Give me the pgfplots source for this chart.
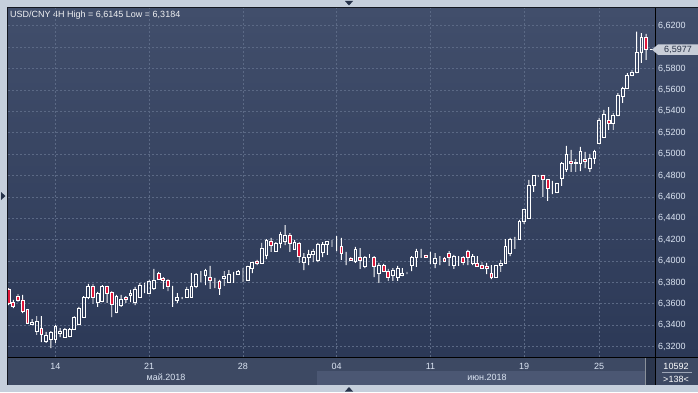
\documentclass[border=0pt]{standalone}
\usepackage{pgfplots}
\pgfplotsset{compat=1.18}
\usepackage{pgfplotstable}
\usepackage{fontspec}
\setmainfont{Liberation Sans}

\definecolor{framecol}{HTML}{C5CFDC}
\definecolor{bgtop}{HTML}{414E6B}
\definecolor{bgbot}{HTML}{2C3957}
\definecolor{panel}{HTML}{3D4963}
\definecolor{panellight}{HTML}{4B5773}
\definecolor{scrolldark}{HTML}{2B364D}
\definecolor{gridcol}{HTML}{5B6985}
\definecolor{labeltext}{HTML}{DCE5F3}
\definecolor{candlered}{HTML}{E0173A}
\definecolor{tagfill}{HTML}{C9CED8}
\definecolor{tagtext}{HTML}{263045}
\definecolor{tri}{HTML}{26324A}

\pgfplotstableread{
i o h l c
0 6.3739 6.3748 6.3589 6.3608
1 6.3617 6.3636 6.3561 6.3580
2 6.3673 6.3692 6.3617 6.3636
3 6.3636 6.3683 6.3514 6.3533
4 6.3543 6.3543 6.3412 6.3421
5 6.3412 6.3458 6.3402 6.3430
6 6.3346 6.3486 6.3309 6.3440
7 6.3374 6.3486 6.3243 6.3318
8 6.3253 6.3337 6.3234 6.3309
9 6.3271 6.3346 6.3187 6.3337
10 6.3271 6.3402 6.3234 6.3393
11 6.3327 6.3374 6.3290 6.3346
12 6.3290 6.3374 6.3281 6.3365
13 6.3299 6.3374 6.3290 6.3365
14 6.3365 6.3486 6.3356 6.3477
15 6.3412 6.3571 6.3402 6.3561
16 6.3477 6.3673 6.3468 6.3664
17 6.3664 6.3786 6.3645 6.3758
18 6.3758 6.3786 6.3599 6.3664
19 6.3617 6.3711 6.3571 6.3701
20 6.3627 6.3776 6.3617 6.3758
21 6.3758 6.3767 6.3608 6.3701
22 6.3711 6.3720 6.3477 6.3599
23 6.3524 6.3683 6.3514 6.3673
24 6.3589 6.3683 6.3571 6.3645
25 6.3664 6.3673 6.3608 6.3645
26 6.3683 6.3730 6.3617 6.3701
27 6.3617 6.3758 6.3589 6.3739
28 6.3664 6.3795 6.3655 6.3776
29 6.3781 6.3795 6.3701 6.3781
30 6.3701 6.3823 6.3692 6.3814
31 6.3748 6.3926 6.3730 6.3823
32 6.3888 6.3898 6.3823 6.3832
33 6.3842 6.3851 6.3739 6.3823
34 6.3823 6.3832 6.3720 6.3758
35 6.3692 6.3767 6.3571 6.3692
36 6.3636 6.3701 6.3608 6.3664
37 6.3655 6.3664 6.3645 6.3655
38 6.3664 6.3758 6.3655 6.3739
39 6.3664 6.3888 6.3655 6.3767
40 6.3758 6.3888 6.3748 6.3879
41 6.3870 6.3907 6.3804 6.3870
42 6.3870 6.3926 6.3776 6.3916
43 6.3851 6.3954 6.3739 6.3823
44 6.3814 6.3842 6.3748 6.3814
45 6.3814 6.3823 6.3683 6.3748
46 6.3842 6.3907 6.3767 6.3860
47 6.3804 6.3916 6.3795 6.3879
48 6.3888 6.3898 6.3795 6.3888
49 6.3879 6.3916 6.3870 6.3907
50 6.3898 6.3935 6.3804 6.3898
51 6.3823 6.3954 6.3814 6.3945
52 6.3935 6.3991 6.3888 6.3991
53 6.4001 6.4010 6.3963 6.3982
54 6.3982 6.4169 6.3973 6.4122
55 6.4057 6.4206 6.4019 6.4197
56 6.4188 6.4216 6.4085 6.4150
57 6.4094 6.4178 6.4085 6.4169
58 6.4169 6.4272 6.4122 6.4253
59 6.4188 6.4337 6.4150 6.4244
60 6.4244 6.4262 6.4085 6.4169
61 6.4113 6.4197 6.4104 6.4178
62 6.4169 6.4178 6.3982 6.4047
63 6.3991 6.4075 6.3916 6.4038
64 6.4038 6.4104 6.3963 6.4066
65 6.4066 6.4113 6.3991 6.4094
66 6.4010 6.4169 6.3991 6.4160
67 6.4085 6.4178 6.4038 6.4160
68 6.4160 6.4188 6.4057 6.4188
69 6.4178 6.4197 6.4132 6.4178
70 6.4188 6.4234 6.4094 6.4188
71 6.4132 6.4216 6.4010 6.4075
72 6.4019 6.4085 6.3963 6.4019
73 6.4029 6.4038 6.4001 6.4010
74 6.4001 6.4132 6.3982 6.4104
75 6.4038 6.4122 6.3926 6.4010
76 6.3945 6.4047 6.3935 6.4038
77 6.4038 6.4066 6.4029 6.4038
78 6.4038 6.4047 6.3851 6.3954
79 6.3888 6.3982 6.3795 6.3963
80 6.3963 6.3973 6.3898 6.3907
81 6.3907 6.3926 6.3814 6.3851
82 6.3870 6.3935 6.3814 6.3916
83 6.3851 6.3954 6.3814 6.3935
84 6.3870 6.3935 6.3860 6.3888
85 6.3888 6.3898 6.3879 6.3888
86 6.3963 6.4047 6.3907 6.4038
87 6.4038 6.4113 6.3945 6.4094
88 6.4047 6.4113 6.4029 6.4047
89 6.4057 6.4057 6.4029 6.4038
90 6.4057 6.4085 6.3973 6.4057
91 6.3982 6.4075 6.3935 6.4029
92 6.4038 6.4047 6.3963 6.4038
93 6.4029 6.4038 6.3991 6.4001
94 6.4075 6.4094 6.3954 6.4038
95 6.3963 6.4057 6.3926 6.4047
96 6.4038 6.4047 6.3954 6.4038
97 6.4038 6.4047 6.3963 6.3991
98 6.4094 6.4104 6.3963 6.4038
99 6.3982 6.4066 6.3963 6.4047
100 6.3982 6.4047 6.3945 6.3945
101 6.3963 6.3991 6.3926 6.3935
102 6.3954 6.3982 6.3879 6.3935
103 6.3888 6.3963 6.3832 6.3851
104 6.3851 6.3963 6.3842 6.3963
105 6.3963 6.4010 6.3898 6.3982
106 6.3982 6.4206 6.3973 6.4141
107 6.4075 6.4216 6.4047 6.4206
108 6.4216 6.4225 6.4113 6.4216
109 6.4206 6.4384 6.4197 6.4375
110 6.4375 6.4487 6.4347 6.4478
111 6.4403 6.4758 6.4403 6.4711
112 6.4711 6.4805 6.4646 6.4805
113 6.4805 6.4805 6.4786 6.4805
114 6.4805 6.4805 6.4599 6.4767
115 6.4767 6.4767 6.4562 6.4683
116 6.4730 6.4749 6.4627 6.4730
117 6.4646 6.4730 6.4636 6.4721
118 6.4777 6.4926 6.4702 6.4917
119 6.4852 6.5076 6.4833 6.5001
120 6.4936 6.5039 6.4833 6.4917
121 6.4926 6.4954 6.4833 6.4908
122 6.4908 6.5067 6.4842 6.5029
123 6.4954 6.5020 6.4870 6.4936
124 6.4870 6.5001 6.4833 6.4964
125 6.4964 6.5039 6.4908 6.5029
126 6.5104 6.5338 6.5095 6.5319
127 6.5160 6.5413 6.5160 6.5375
128 6.5310 6.5440 6.5226 6.5291
129 6.5282 6.5384 6.5226 6.5366
130 6.5366 6.5571 6.5356 6.5553
131 6.5543 6.5628 6.5478 6.5618
132 6.5618 6.5758 6.5609 6.5740
133 6.5740 6.5787 6.5730 6.5768
134 6.5768 6.6145 6.5758 6.5955
135 6.5955 6.6132 6.5852 6.6095
136 6.6095 6.6123 6.5880 6.5977
}\candles

\begin{document}
\begin{tikzpicture}[font=\fontsize{9}{10}\selectfont]
\useasboundingbox (0,0) rectangle (698pt,392pt);
\fill[framecol] (0,0) rectangle (698pt,392pt);
\begin{scope}[x=1pt,y=-1pt,yshift=392pt]
  \shade[top color=bgtop,bottom color=bgbot] (8,8) rectangle (698,357);
  \fill[panel] (8,357) rectangle (698,385);
  \fill[panellight] (317,371) rectangle (645,385);
  \fill[scrolldark] (646,358) rectangle (655,385);
  \draw[framecol!70!black, line width=0.6pt] (645.5,358) -- (645.5,385);
  \draw[black!70!bgtop, line width=0.7pt] (7.6,385) -- (7.6,7.6) -- (698,7.6);
  \draw[black, line width=1pt] (8,357.5) -- (698,357.5);
  \draw[black, line width=1pt] (655,8) -- (655,385);
  % small navigation triangles
  \fill[tri] (345,1) -- (353,1) -- (349,5.5) -- cycle;
  \fill[tri] (345,391.5) -- (353,391.5) -- (349,387) -- cycle;
  \fill[tri] (1,192) -- (1,200) -- (5.5,196) -- cycle;
  % texts
  \node[anchor=west, inner sep=0pt, text=white!92!bgtop] at (10,15) {USD/CNY 4H High = 6,6145 Low = 6,3184};
  \node[anchor=base, inner sep=0pt, text=labeltext] at (166,380) {май.2018};
  \node[anchor=base, inner sep=0pt, text=labeltext] at (487,380) {июн.2018};
  \node[anchor=base, inner sep=0pt, text=white] at (676,369.5) {10592};
  \draw[gridcol!60!white, line width=0.6pt] (662,372) -- (692,372);
  \node[anchor=base, inner sep=0pt, text=white] at (676,382.5) {>138<};
\end{scope}

\begin{axis}[
  at={(8pt,35pt)}, anchor=south west,
  scale only axis, width=646.5pt, height=349pt,
  xmin=-0.13, xmax=137.8, ymin=6.3103, ymax=6.6366,
  ybar stacked,
  axis line style={draw=none},
  tick style={draw=none},
  xtick={10,30,50,70,90,110,126},
  xticklabels={14,21,28,04,11,19,25},
  ytick={6.32,6.34,6.36,6.38,6.40,6.42,6.44,6.46,6.48,6.50,6.52,6.54,6.56,6.58,6.62},
  extra y ticks={6.60},
  extra y tick labels={},
  extra tick style={grid=major, major grid style={gridcol, dash pattern=on 2pt off 2pt, line width=0.7pt}, tick style={draw=none}},
  yticklabel pos=right,
  yticklabel={\pgfmathprintnumber[fixed,fixed zerofill,precision=4,use comma,assume math mode=true]{\tick}},
  xticklabel style={anchor=base, yshift=-12pt},
  yticklabel style={anchor=west},
  tick label style={font=\fontsize{9}{10}\selectfont, text=labeltext},
  grid=major,
  major grid style={gridcol, dash pattern=on 2pt off 2pt, line width=0.7pt},
  /pgf/number format/assume math mode=true,
]
\addplot[draw=none, fill=none, bar width=0.6] table[x=i, y=l] {\candles};
\addplot[draw=none, fill=white, bar width=0.2] table[x=i, y expr={min(\thisrow{o},\thisrow{c})-\thisrow{l}}] {\candles};
\addplot[draw=white, fill=none, line width=0.9pt, bar width=0.6] table[x=i, y expr={max(\thisrow{c}-\thisrow{o},0)}] {\candles};
\addplot[draw=white, fill=candlered, line width=0.9pt, bar width=0.6] table[x=i, y expr={max(\thisrow{o}-\thisrow{c},0)}] {\candles};
\addplot[draw=none, fill=white, bar width=0.2] table[x=i, y expr={\thisrow{h}-max(\thisrow{o},\thisrow{c})}] {\candles};
\coordinate (lastp) at (axis cs:137.8,6.5977);
\end{axis}

\draw[white, line width=0.8pt] ([xshift=-5pt]lastp) -- ([xshift=-2pt]lastp);
\fill[tagfill] ([xshift=-2.5pt]lastp) -- ++(6pt,5.2pt) -- ++(40pt,0) -- ++(0,-10.4pt) -- ++(-40pt,0) -- cycle;
\node[text=tagtext, inner sep=0pt] at ([xshift=23.5pt]lastp) {6,5977};
\end{tikzpicture}
\end{document}
